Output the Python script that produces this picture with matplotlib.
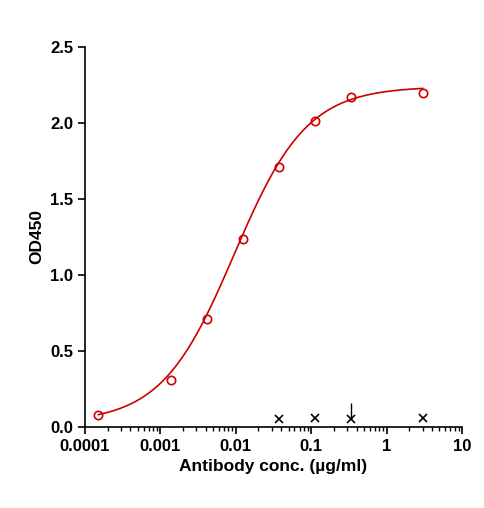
import numpy as np
import matplotlib
matplotlib.use("Agg")
import matplotlib.pyplot as plt

plt.rcParams["font.family"] = ["Liberation Sans", "DejaVu Sans"]
plt.rcParams["font.weight"] = "bold"

conc = [0.00015, 0.00137, 0.0041, 0.0123, 0.037, 0.111, 0.333, 3.0]
od = [0.08, 0.31, 0.71, 1.24, 1.71, 2.01, 2.17, 2.20]
ctrl_conc = [0.037, 0.111, 0.333, 3.0]
ctrl_od = [0.05, 0.06, 0.05, 0.06]
ctrl_err = [0.0, 0.0, 0.11, 0.0]
# 4PL fit parameters
bottom, top, ec50, hill = 0.03, 2.24, 0.0095, 0.9

fig = plt.figure(figsize=(4.85, 5.08), dpi=100)
ax = fig.add_axes([85 / 485, 1 - 427 / 508, 377 / 485, 380 / 508])
xs = np.logspace(np.log10(conc[0]), np.log10(conc[-1]), 300)
ax.plot(xs, bottom + (top - bottom) / (1 + (ec50 / xs) ** hill), color="#cc0000", lw=1.2)
ax.plot(conc, od, "o", ms=6, mfc="none", mec="#cc0000", mew=1.2)
ax.errorbar(ctrl_conc, ctrl_od, yerr=[[0] * 4, ctrl_err], fmt="x", color="black",
            ms=6, mew=1.2, elinewidth=1, capsize=0)
ax.set_xscale("log")
ax.set_xlim(1e-4, 10)
ax.set_ylim(0, 2.5)
ax.set_xticks([1e-4, 1e-3, 1e-2, 1e-1, 1, 10])
ax.set_xticklabels(["0.0001", "0.001", "0.01", "0.1", "1", "10"])
ax.set_yticks([0, 0.5, 1.0, 1.5, 2.0, 2.5])
ax.set_yticklabels(["0.0", "0.5", "1.0", "1.5", "2.0", "2.5"])
for s in ("top", "right"):
    ax.spines[s].set_visible(False)
for s in ("left", "bottom"):
    ax.spines[s].set_linewidth(1.2)
ax.tick_params(labelsize=12, width=1.2, length=5)
ax.tick_params(which="minor", width=1, length=3)
ax.set_xlabel("Antibody conc. (\u00b5g/ml)", fontsize=12.5, fontweight="bold")
ax.set_ylabel("OD450", fontsize=12.5, fontweight="bold")
fig.savefig("out.png", dpi=100)
